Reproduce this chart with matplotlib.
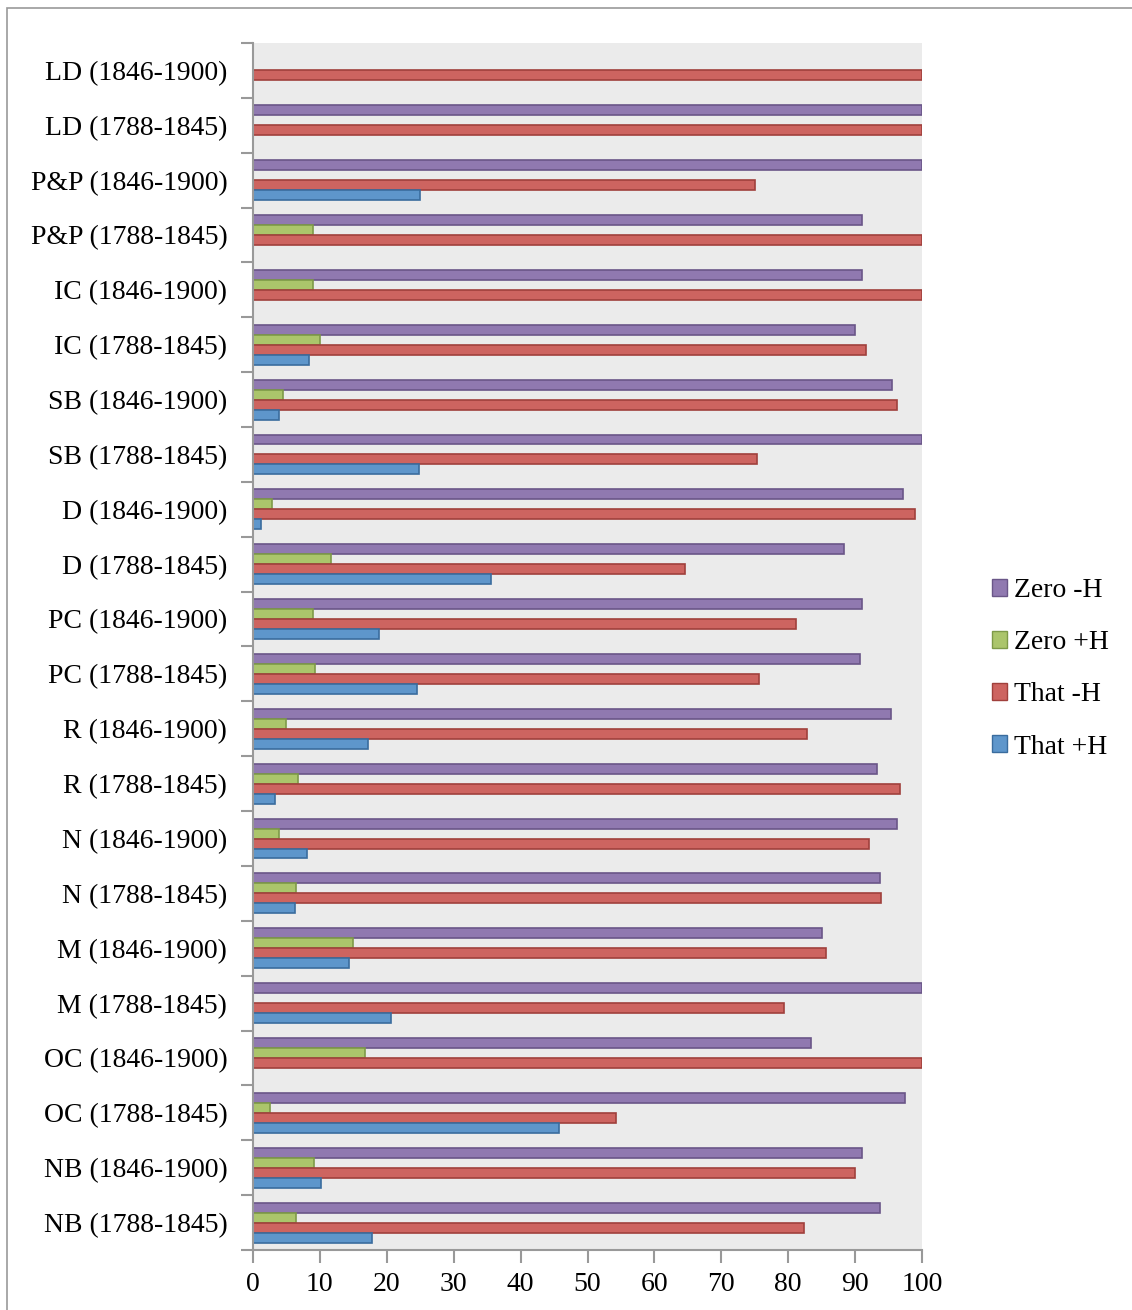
import numpy as np
import matplotlib
matplotlib.use("Agg")
import matplotlib.pyplot as plt
from matplotlib.patches import Rectangle, Patch

plt.rcParams['font.family'] = ['Liberation Serif', 'DejaVu Serif']

# categories as they appear from top to bottom
categories = [
    "LD (1846-1900)", "LD (1788-1845)", "P&P (1846-1900)", "P&P (1788-1845)",
    "IC (1846-1900)", "IC (1788-1845)", "SB (1846-1900)", "SB (1788-1845)",
    "D (1846-1900)", "D (1788-1845)", "PC (1846-1900)", "PC (1788-1845)",
    "R (1846-1900)", "R (1788-1845)", "N (1846-1900)", "N (1788-1845)",
    "M (1846-1900)", "M (1788-1845)", "OC (1846-1900)", "OC (1788-1845)",
    "NB (1846-1900)", "NB (1788-1845)",
]
zero_minus_h = [0, 100, 100, 91.0, 91.0, 90.0, 95.5, 100, 97.2, 88.3, 91.1,
                90.8, 95.3, 93.2, 96.2, 93.7, 85.0, 100, 83.4, 97.5, 91.1, 93.7]
zero_plus_h = [0, 0, 0, 9.0, 9.0, 10.0, 4.5, 0, 2.9, 11.7, 9.0,
               9.3, 4.9, 6.8, 3.9, 6.5, 15.0, 0, 16.8, 2.5, 9.1, 6.5]
that_minus_h = [100, 100, 75.0, 100, 100, 91.7, 96.3, 75.4, 98.9, 64.5, 81.2,
                75.6, 82.8, 96.7, 92.1, 93.8, 85.6, 79.4, 100, 54.3, 90.0, 82.4]
that_plus_h = [0, 0, 25.0, 0, 0, 8.3, 3.9, 24.8, 1.2, 35.6, 18.8,
               24.5, 17.2, 3.3, 8.1, 6.3, 14.4, 20.6, 0, 45.8, 10.1, 17.8]

series = [
    ("Zero -H", zero_minus_h, "#9079b0", "#6a5688"),
    ("Zero +H", zero_plus_h, "#abc56b", "#7e9a48"),
    ("That -H", that_minus_h, "#cd6460", "#a0403c"),
    ("That +H", that_plus_h, "#5e96cb", "#3a6c9e"),
]

W, H = 1132, 1310
fig = plt.figure(figsize=(W / 100, H / 100), dpi=100)
ax = fig.add_axes([253 / W, 1 - 1250 / H, (922 - 253) / W, (1250 - 43) / H])

n = len(categories)
ypos = np.arange(n)[::-1]
bar_h = 0.182
offsets = [1.5 * bar_h, 0.5 * bar_h, -0.5 * bar_h, -1.5 * bar_h]

for (name, vals, fc, ec), off in zip(series, offsets):
    v = np.array(vals, dtype=float)
    v = np.where(v > 0, v, np.nan)
    ax.barh(ypos + off, v, height=bar_h, color=fc, edgecolor=ec, linewidth=1.2)

ax.set_facecolor("#ebebeb")
ax.set_xlim(0, 100)
ax.set_ylim(-0.5, n - 0.5)
ax.set_xticks(np.arange(0, 101, 10))
ax.set_yticks(ypos)
ax.set_yticklabels(categories)
ax.set_yticks(np.arange(-0.5, n, 1), minor=True)
ax.tick_params(axis='y', which='major', length=0, pad=18.5, labelsize=20)
ax.tick_params(axis='y', which='minor', length=9, width=1.5, color="#999999")
ax.tick_params(axis='x', length=9, width=1.5, color="#999999", labelsize=20, pad=7)
for s in ["top", "right"]:
    ax.spines[s].set_visible(False)
for s in ["left", "bottom"]:
    ax.spines[s].set_color("#999999")
    ax.spines[s].set_linewidth(1.5)

handles = [Patch(facecolor=fc, edgecolor=ec, label=name) for name, _, fc, ec in series]
fig.legend(handles=handles, loc="upper left", bbox_to_anchor=(967 / W, 1 - 553 / H),
           frameon=False, fontsize=20, handlelength=0.55, handleheight=0.55,
           handletextpad=0.25, labelspacing=0.98)

# outer chart border
fig.patches.append(Rectangle((7 / W, -0.05), 1.2, 1 - 8 / H + 0.05, transform=fig.transFigure,
                             fill=False, edgecolor="#999999", linewidth=1.2))

fig.savefig("out.png", dpi=100, facecolor="white")
